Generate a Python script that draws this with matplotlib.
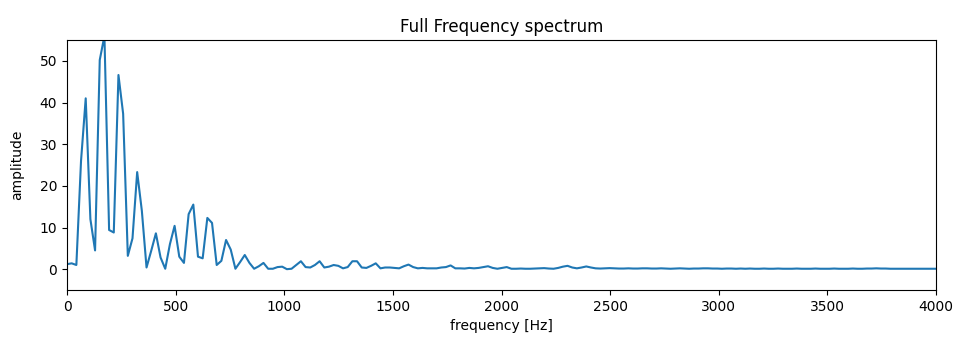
import numpy as np
import matplotlib
matplotlib.use("Agg")
import matplotlib.pyplot as plt

sample_rate = 44100
n_fft = 2048

amplitude = [
    1.2, 1.4, 1.0, 26.0, 41.0, 12.0, 4.5, 50.2, 56.0, 9.4,
    8.8, 46.6, 37.3, 3.2, 7.4, 23.3, 14.0, 0.4, 4.4, 8.6,
    2.8, 0.1, 6.0, 10.4, 3.0, 1.5, 13.2, 15.5, 3.0, 2.6,
    12.3, 11.1, 1.0, 2.0, 7.0, 4.7, 0.1, 1.7, 3.4, 1.5,
    0.1, 0.7, 1.5, 0.1, 0.1, 0.5, 0.6, 0.0, 0.1, 1.0,
    1.9, 0.5, 0.4, 1.0, 1.9, 0.4, 0.6, 1.0, 0.8, 0.2,
    0.5, 1.9, 1.9, 0.4, 0.3, 0.8, 1.4, 0.2, 0.4, 0.4,
    0.3, 0.2, 0.7, 1.1, 0.5, 0.2, 0.3, 0.2, 0.2, 0.2,
    0.4, 0.5, 0.9, 0.2, 0.2, 0.15, 0.3, 0.2, 0.3, 0.5,
    0.7, 0.3, 0.1, 0.3, 0.5, 0.1, 0.1, 0.15, 0.1, 0.1,
    0.15, 0.2, 0.25, 0.15, 0.1, 0.3, 0.6, 0.8, 0.4, 0.2,
    0.4, 0.65, 0.4, 0.2, 0.15, 0.2, 0.25, 0.2, 0.15, 0.15,
    0.2, 0.15, 0.15, 0.2, 0.2, 0.15, 0.15, 0.2, 0.15, 0.1,
    0.15, 0.2, 0.15, 0.1, 0.15, 0.15, 0.2, 0.2, 0.15, 0.15,
    0.1, 0.15, 0.15, 0.1, 0.15, 0.1, 0.15, 0.1, 0.1, 0.15,
    0.1, 0.1, 0.15, 0.1, 0.1, 0.1, 0.15, 0.1, 0.1, 0.1,
    0.15, 0.1, 0.1, 0.1, 0.15, 0.1, 0.1, 0.1, 0.15, 0.1,
    0.1, 0.15, 0.15, 0.2, 0.15, 0.15, 0.1, 0.1, 0.1, 0.1,
    0.1, 0.1, 0.1, 0.1, 0.1, 0.1, 0.1, 0.1, 0.1, 0.1,
]

freqs = np.arange(len(amplitude)) * sample_rate / n_fft

fig = plt.figure(figsize=(9.6, 3.47), dpi=100)
ax = fig.add_axes([67 / 960, 1 - 290 / 347, (936 - 67) / 960, (290 - 40) / 347])
ax.plot(freqs, amplitude, color="#1f77b4", linewidth=1.5)
ax.set_xlim(0, 4000)
ax.set_ylim(-5, 55)
ax.set_title("Full Frequency spectrum")
ax.set_xlabel("frequency [Hz]")
ax.set_ylabel("amplitude", labelpad=11)
fig.savefig("out.png", dpi=100)
